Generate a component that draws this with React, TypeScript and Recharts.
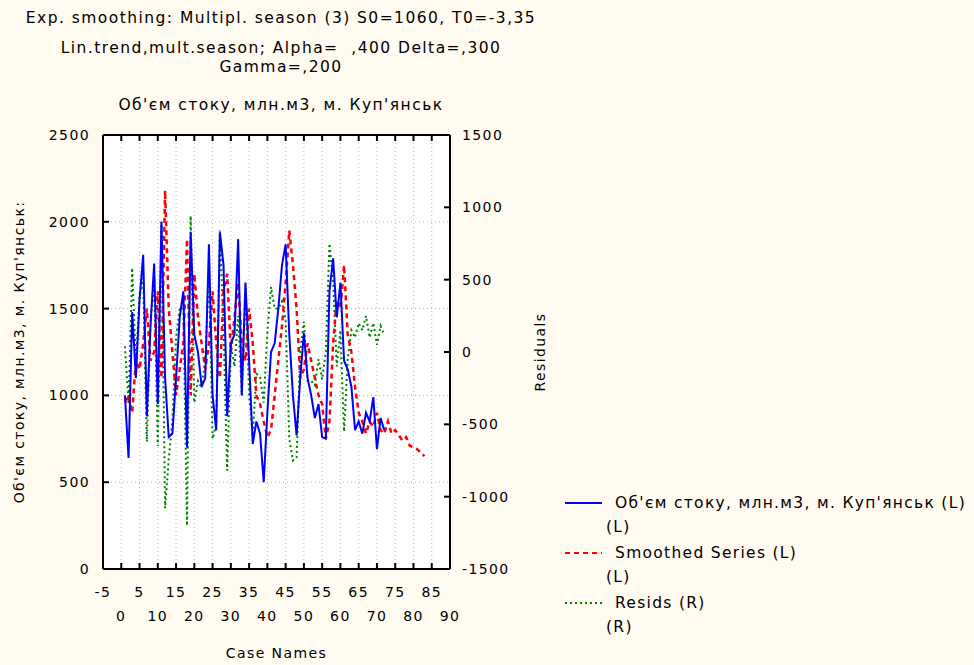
import React from "react";
import { ComposedChart, Line, XAxis, YAxis, CartesianGrid, Legend } from "recharts";

// ---- data ----
const observed = [
  1000, 640, 1480, 1100, 1550, 1810, 880, 1400, 1760, 950,
  2000, 1100, 760, 780, 1100, 1450, 1600, 700, 1940, 1350,
  1250, 1050, 1100, 1870, 1000, 800, 1940, 1750, 880, 1300,
  1350, 1900, 1000, 1650, 1200, 720, 850, 780, 500, 900,
  1250, 1300, 1500, 1750, 1870, 1350, 1000, 770, 1100, 1360,
  1100, 1000, 870, 950, 760, 750, 1600, 1790, 1450, 1650,
  1200, 1150, 1050, 800, 850, 780, 900, 850, 990, 690,
  870, 800,
];

const smoothed = [
  960, 1000, 900, 1200, 1150, 1300, 1500, 1200, 1250, 1600,
  1100, 2180, 1500, 1250, 1000, 1150, 1300, 1900, 1000, 1700,
  1450, 1300, 1150, 1300, 1600, 1300, 1100, 1600, 1700, 1250,
  1450, 1650, 1300, 1200, 1500, 1300, 1000, 950, 850, 760,
  800, 1000, 1200, 1400, 1650, 1950, 1750, 1500, 1100, 1150,
  1300, 1200, 1100, 1000, 950, 750, 850, 1300, 1550, 1500,
  1750, 1350, 1250, 1050, 900, 850, 780, 850, 820, 900,
  800, 780, 850, 780, 800, 770, 740, 760, 710, 700,
  690, 670, 650,
];

const resids = [
  40, -360, 580, -100, 400, 510, -620, 200, 510, -650,
  900, -1080, -740, -470, 100, 300, 300, -1200, 940, -350,
  -200, -250, -50, 570, -600, -500, 840, 150, -820, 50,
  -100, 250, -300, 450, -300, -580, -150, -170, -350, 140,
  450, 300, 300, 350, 220, -600, -750, -730, 0, 210,
  -200, -200, -230, -50, -190, 0, 750, 490, -100, 150,
  -550, -50, 150, 100, 200, 150, 250, 100, 200, 50,
  180, 120,
];

const xTicks = [-5, 0, 5, 10, 15, 20, 25, 30, 35, 40, 45, 50, 55, 60, 65, 70, 75, 80, 85, 90];
const leftTicks = [0, 500, 1000, 1500, 2000, 2500];
const rightTicks = [-1500, -1000, -500, 0, 500, 1000, 1500];

const seriesName = "Об'єм стоку, млн.м3, м. Куп'янськ";

const rows = smoothed.map((s, i) => ({
  caseNo: i + 1,
  obs: observed[i],
  smooth: s,
  resid: resids[i],
}));

const FONT = '"DejaVu Sans", Verdana, sans-serif';
const BG = "#FFFBF0";

const textStyle: React.CSSProperties = {
  fontFamily: FONT,
  fontSize: 14,
  letterSpacing: 1.4,
  fill: "#000",
};

function BottomTick({ x, y, payload }: any) {
  const low = payload.value % 10 === 0;
  return (
    <g>
      <line x1={x} x2={x} y1={y} y2={y - 6} stroke="#000" strokeWidth={2} />
      <text x={x} y={y + (low ? 52 : 28)} textAnchor="middle" style={textStyle}>
        {payload.value}
      </text>
    </g>
  );
}

function TopTick({ x, y }: any) {
  return <line x1={x} x2={x} y1={y} y2={y + 6} stroke="#000" strokeWidth={2} />;
}

function LeftTick({ x, y, payload }: any) {
  return (
    <g>
      <line x1={x} x2={x + 6} y1={y} y2={y} stroke="#000" strokeWidth={2} />
      <text x={x - 13} y={y + 5} textAnchor="end" style={textStyle}>
        {payload.value}
      </text>
    </g>
  );
}

function RightTick({ x, y, payload }: any) {
  return (
    <g>
      <line x1={x} x2={x - 6} y1={y} y2={y} stroke="#000" strokeWidth={2} />
      <text x={x + 12} y={y + 5} textAnchor="start" style={textStyle}>
        {payload.value}
      </text>
    </g>
  );
}

const legendRows = [
  { label: seriesName + " (L)", sub: "(L)", color: "#0000FF", dash: undefined },
  { label: "Smoothed Series (L)", sub: "(L)", color: "#FF0000", dash: "5 4" },
  { label: "Resids (R)", sub: "(R)", color: "#008000", dash: "2 3" },
];

function LegendBox() {
  return (
    <div style={{ fontFamily: FONT, fontSize: 15.5, letterSpacing: 1.3, color: "#000", whiteSpace: "nowrap", width: 414 }}>
      {legendRows.map((r, i) => (
        <div key={i}>
          <div style={{ height: 25, display: "flex", alignItems: "center" }}>
            <svg width={50} height={10} style={{ flex: "none" }}>
              <line x1={5} x2={42} y1={5} y2={5} stroke={r.color} strokeWidth={2} strokeDasharray={r.dash} />
            </svg>
            <span style={{ marginLeft: 5 }}>{r.label}</span>
          </div>
          <div style={{ height: 25, lineHeight: "25px", paddingLeft: 46 }}>{r.sub}</div>
        </div>
      ))}
    </div>
  );
}

const titleStyle: React.CSSProperties = {
  position: "absolute",
  left: 0,
  width: 562,
  textAlign: "center",
  fontFamily: FONT,
  fontSize: 15.5,
  letterSpacing: 1.45,
  color: "#000",
  lineHeight: "20px",
};

export default function App() {
  return (
    <div style={{ position: "absolute", left: 0, top: 0, width: 974, height: 665, background: BG, overflow: "hidden" }}>
      <div style={{ ...titleStyle, top: 8 }}>Exp. smoothing: Multipl. season (3) S0=1060, T0=-3,35</div>
      <div style={{ ...titleStyle, top: 38, whiteSpace: "pre" }}>Lin.trend,mult.season; Alpha=  ,400 Delta=,300</div>
      <div style={{ ...titleStyle, top: 57 }}>Gamma=,200</div>
      <div style={{ ...titleStyle, top: 95 }}>{seriesName}</div>

      <ComposedChart
        width={974}
        height={665}
        data={rows}
        margin={{ top: 134, right: 464, bottom: 0, left: 43 }}
        style={{ position: "absolute", left: 0, top: 0 }}
      >
        <CartesianGrid fill="#FFFFFF" stroke="#B8B8B8" strokeDasharray="1 3" />
        <XAxis
          dataKey="caseNo"
          type="number"
          domain={[-5, 90]}
          ticks={xTicks}
          interval={0}
          allowDataOverflow
          height={96}
          tickSize={0}
          tickMargin={0}
          tick={<BottomTick />}
          axisLine={{ stroke: "#000", strokeWidth: 2 }}
          label={{ value: "Case Names", position: "insideBottom", offset: 7, style: textStyle }}
        />
        <XAxis
          xAxisId="top"
          orientation="top"
          dataKey="caseNo"
          type="number"
          domain={[-5, 90]}
          ticks={xTicks}
          interval={0}
          allowDataOverflow
          height={1}
          tickSize={0}
          tickMargin={0}
          tick={<TopTick />}
          axisLine={{ stroke: "#000", strokeWidth: 2 }}
        />
        <YAxis
          type="number"
          domain={[0, 2500]}
          ticks={leftTicks}
          interval={0}
          width={60}
          tickSize={0}
          tickMargin={0}
          tick={<LeftTick />}
          axisLine={{ stroke: "#000", strokeWidth: 2 }}
          label={{ value: seriesName + ":", angle: -90, position: "insideLeft", offset: -24, style: { ...textStyle, textAnchor: "middle" } }}
        />
        <YAxis
          yAxisId="right"
          orientation="right"
          type="number"
          domain={[-1500, 1500]}
          ticks={rightTicks}
          interval={0}
          width={60}
          tickSize={0}
          tickMargin={0}
          tick={<RightTick />}
          axisLine={{ stroke: "#000", strokeWidth: 2 }}
          label={{ value: "Residuals", angle: -90, position: "insideRight", offset: -30, style: { ...textStyle, textAnchor: "middle" } }}
        />
        <Legend
          layout="vertical"
          align="center"
          verticalAlign="middle"
          content={<LegendBox />}
          wrapperStyle={{ left: 560, top: 490, width: 414, height: 160 }}
        />
        <Line
          name="Resids (R)"
          yAxisId="right"
          dataKey="resid"
          type="linear"
          stroke="#008000"
          strokeWidth={2}
          strokeDasharray="2 3"
          dot={false}
          isAnimationActive={false}
        />
        <Line
          name="Smoothed Series (L)"
          dataKey="smooth"
          type="linear"
          stroke="#FF0000"
          strokeWidth={2.5}
          strokeDasharray="5 4"
          dot={false}
          isAnimationActive={false}
        />
        <Line
          name={seriesName + " (L)"}
          dataKey="obs"
          type="linear"
          stroke="#0000FF"
          strokeWidth={2}
          dot={false}
          isAnimationActive={false}
        />
      </ComposedChart>
    </div>
  );
}
